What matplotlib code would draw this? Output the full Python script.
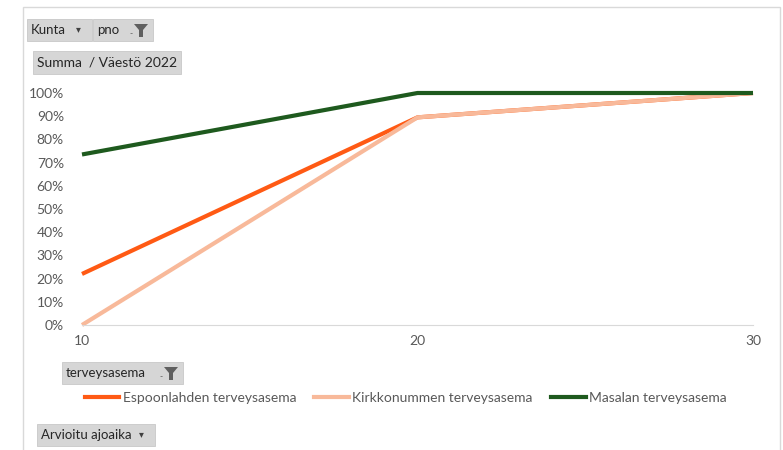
import matplotlib.pyplot as plt
import matplotlib.patches as patches
from matplotlib.lines import Line2D

# data
ajoaika = [10, 20, 30]
espoonlahti = [0.22, 0.895, 1.0]
kirkkonummi = [0.0, 0.895, 1.0]
masala = [0.735, 1.0, 1.0]
series_names = ["Espoonlahden terveysasema", "Kirkkonummen terveysasema", "Masalan terveysasema"]
series_colors = ["#ff5a14", "#f8b99a", "#1e5a1e"]
y_ticks = [0.0, 0.1, 0.2, 0.3, 0.4, 0.5, 0.6, 0.7, 0.8, 0.9, 1.0]

W, H = 783, 450
plt.rcParams['font.family'] = ['Lato', 'DejaVu Sans']

fig = plt.figure(figsize=(W / 100, H / 100), dpi=100)


def fx(px):
	return px / W


def fy(py):
	return 1 - py / H


# outer chart frame
frame = patches.Rectangle((fx(23), fy(460)), fx(780 - 23), fy(7) - fy(460),
	transform=fig.transFigure, fill=False, ec="#d9d9d9", lw=1)
fig.patches.append(frame)

ax = fig.add_axes([fx(82), fy(325), fx(753 - 82), fy(93) - fy(325)])

for vals, name, col in zip([espoonlahti, kirkkonummi, masala], series_names, series_colors):
	ax.plot(ajoaika, vals, color=col, lw=3, solid_capstyle="butt", label=name, clip_on=False)

ax.set_xlim(10, 30)
ax.set_ylim(0, 1)
ax.set_xticks(ajoaika)
ax.set_yticks(y_ticks)
ax.set_yticklabels(["%d%%" % round(t * 100) for t in y_ticks])
for side in ["top", "right", "left"]:
	ax.spines[side].set_visible(False)
ax.spines["bottom"].set_color("#d9d9d9")
ax.tick_params(axis="both", length=0, colors="#595959", labelsize=10)
ax.tick_params(axis="y", pad=13)
ax.tick_params(axis="x", pad=7)
ax.patch.set_alpha(0)


# pivot field buttons
def button(x0, y0, x1, y1, label, arrow=False, funnel=False, fs=9.5):
	r = patches.Rectangle((fx(x0), fy(y1)), fx(x1 - x0), fy(y0) - fy(y1),
		transform=fig.transFigure, fc="#d6d6d6", ec="#c8c8c8", lw=0.6)
	fig.patches.append(r)
	fig.text(fx(x0 + 4), fy((y0 + y1) / 2), label, ha="left", va="center",
		fontsize=fs, color="#262626")
	if arrow:
		fig.text(fx(x1 - 14), fy((y0 + y1) / 2), "\u25be", ha="center", va="center",
			fontsize=7, color="#404040")
	if funnel:
		cx = x1 - 12
		top = y0 + 5
		pts = [(cx - 7, top), (cx + 7, top), (cx + 2, top + 6), (cx + 2, top + 13), (cx - 2, top + 13), (cx - 2, top + 6)]
		poly = patches.Polygon([(fx(a), fy(b)) for a, b in pts], closed=True,
			transform=fig.transFigure, fc="#5f5f5f", ec="none")
		fig.patches.append(poly)
		fig.text(fx(cx - 10), fy(top + 10), "-", ha="center", va="center", fontsize=6, color="#404040")


button(27, 19, 92, 41, "Kunta", arrow=True)
button(93, 19, 153, 41, "pno", funnel=True)
button(33, 51, 181, 74, "Summa  / Väestö 2022", fs=10)
button(62, 362, 183, 384, "terveysasema", funnel=True)
button(37, 424, 155, 446, "Arvioitu ajoaika", arrow=True)

# legend
handles = [Line2D([], [], color=c, lw=3) for c in series_colors]
leg = fig.legend(handles, series_names, loc="center left", bbox_to_anchor=(fx(72), fy(398)),
	ncol=3, frameon=False, handlelength=2.5, handletextpad=0.25, columnspacing=1.3,
	fontsize=10)
for t in leg.get_texts():
	t.set_color("#595959")

fig.savefig("out.png", dpi=100)
